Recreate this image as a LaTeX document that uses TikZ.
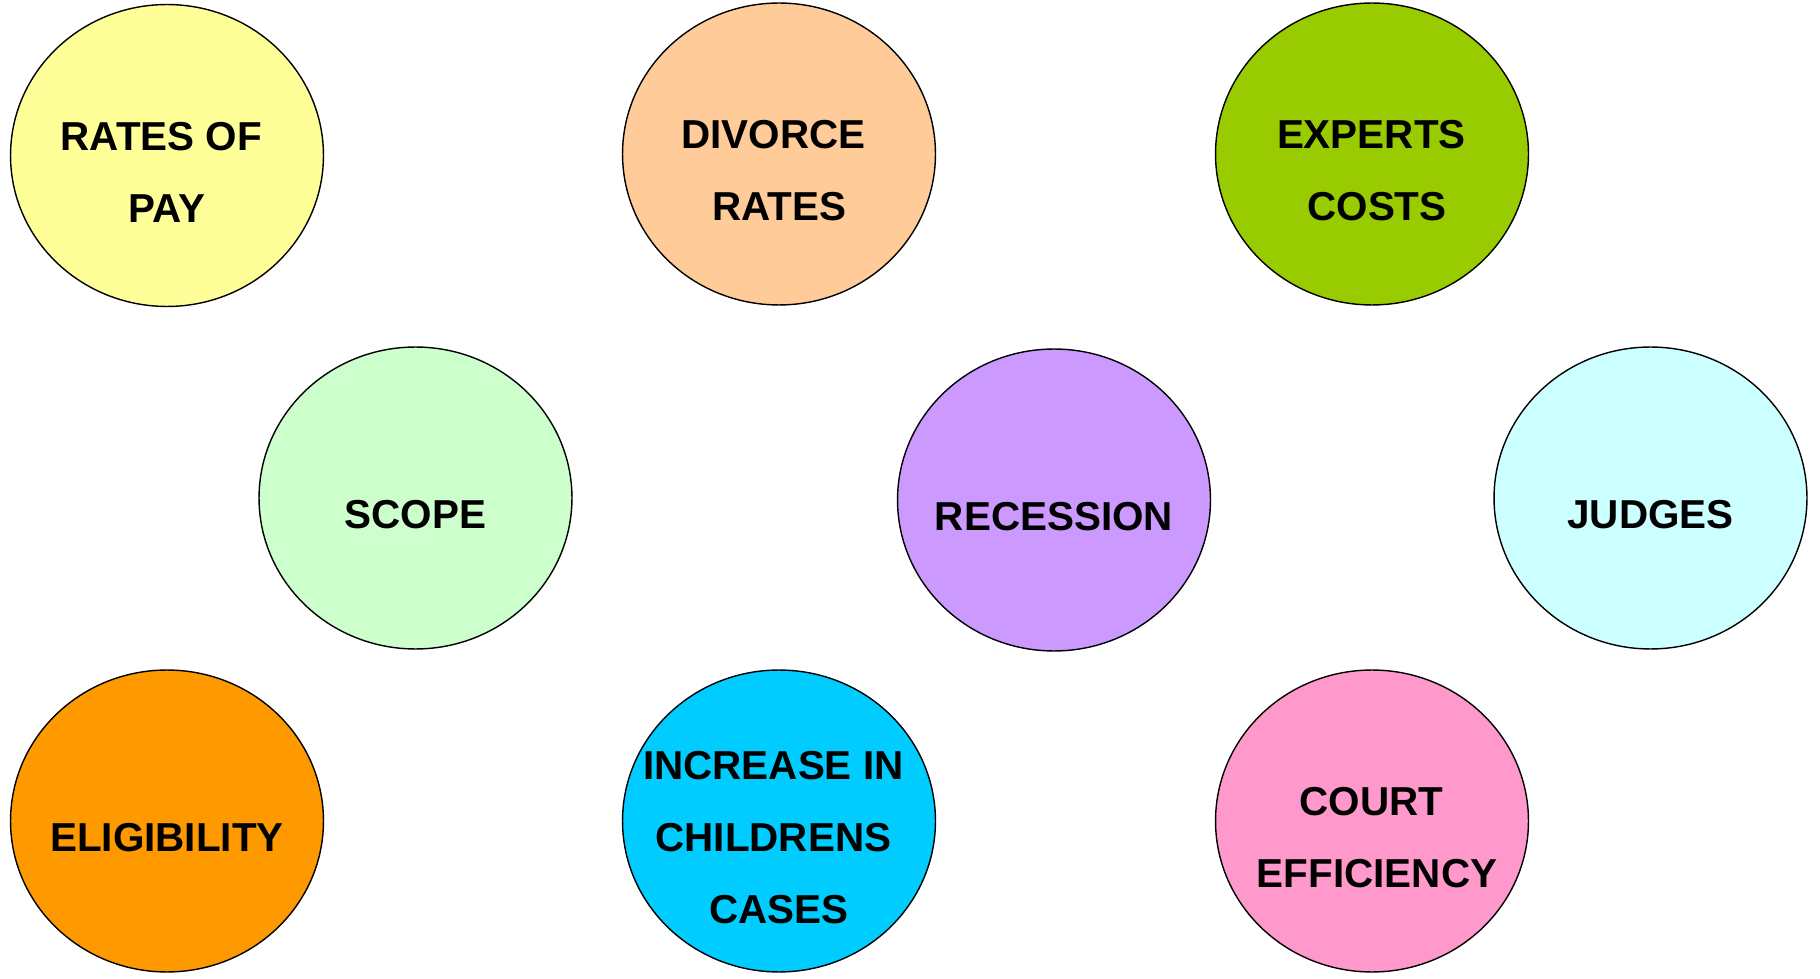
\documentclass[tikz,border=0pt]{standalone}
\usepackage{fontspec}
\setmainfont{Liberation Sans}
\usetikzlibrary{shapes.geometric}
\definecolor{cyellow}{HTML}{FFFF99}
\definecolor{cpeach}{HTML}{FFCC99}
\definecolor{cgreen}{HTML}{99CC00}
\definecolor{cmint}{HTML}{CCFFCC}
\definecolor{cviolet}{HTML}{CC99FF}
\definecolor{cice}{HTML}{CCFFFF}
\definecolor{corange}{HTML}{FF9900}
\definecolor{ccyan}{HTML}{00CCFF}
\definecolor{cpink}{HTML}{FF99CC}
\newcommand{\tsp}{\hspace*{0.28em}}
\tikzset{
  bubble/.style={ellipse, draw=black, line width=0.8pt, minimum width=6.26cm, minimum height=6.04cm, inner sep=0pt},
  btext/.style={align=center, font=\fontsize{23}{41}\selectfont\bfseries, inner sep=0pt, yshift=-0.34cm}
}
\begin{document}
\begin{tikzpicture}[x=0.02cm,y=-0.02cm]
\useasboundingbox (0,0) rectangle (1820,979);
\fill[white] (0,0) rectangle (1820,979);
\node[bubble, fill=cyellow] (e1) at (167,155.5) {};
\node[btext] (t1) at (e1.center) {RATES OF\tsp\\PAY};
\node[bubble, fill=cpeach] (e2) at (779,154) {};
\node[btext] (t2) at (e2.center) {DIVORCE\tsp\\RATES};
\node[bubble, fill=cgreen] (e3) at (1372,154) {};
\node[btext, xshift=0.1cm] (t3) at (e3.center) {EXPERTS\tsp\\COSTS};
\node[bubble, fill=cmint] (e4) at (415.5,498) {};
\node[btext] (t4) at (e4.center) {SCOPE};
\node[bubble, fill=cviolet] (e5) at (1054,500) {};
\node[btext] (t5) at (e5.center) {RECESSION};
\node[bubble, fill=cice] (e6) at (1650.5,498) {};
\node[btext] (t6) at (e6.center) {JUDGES};
\node[bubble, fill=corange] (e7) at (167,821) {};
\node[btext] (t7) at (e7.center) {ELIGIBILITY};
\node[bubble, fill=ccyan] (e8) at (779,821) {};
\node[btext] (t8) at (e8.center) {INCREASE IN\tsp\\CHILDRENS\tsp\tsp\\CASES};
\node[bubble, fill=cpink] (e9) at (1372,821) {};
\node[btext, xshift=0.1cm] (t9) at (e9.center) {COURT\tsp\\EFFICIENCY};
\end{tikzpicture}
\end{document}
